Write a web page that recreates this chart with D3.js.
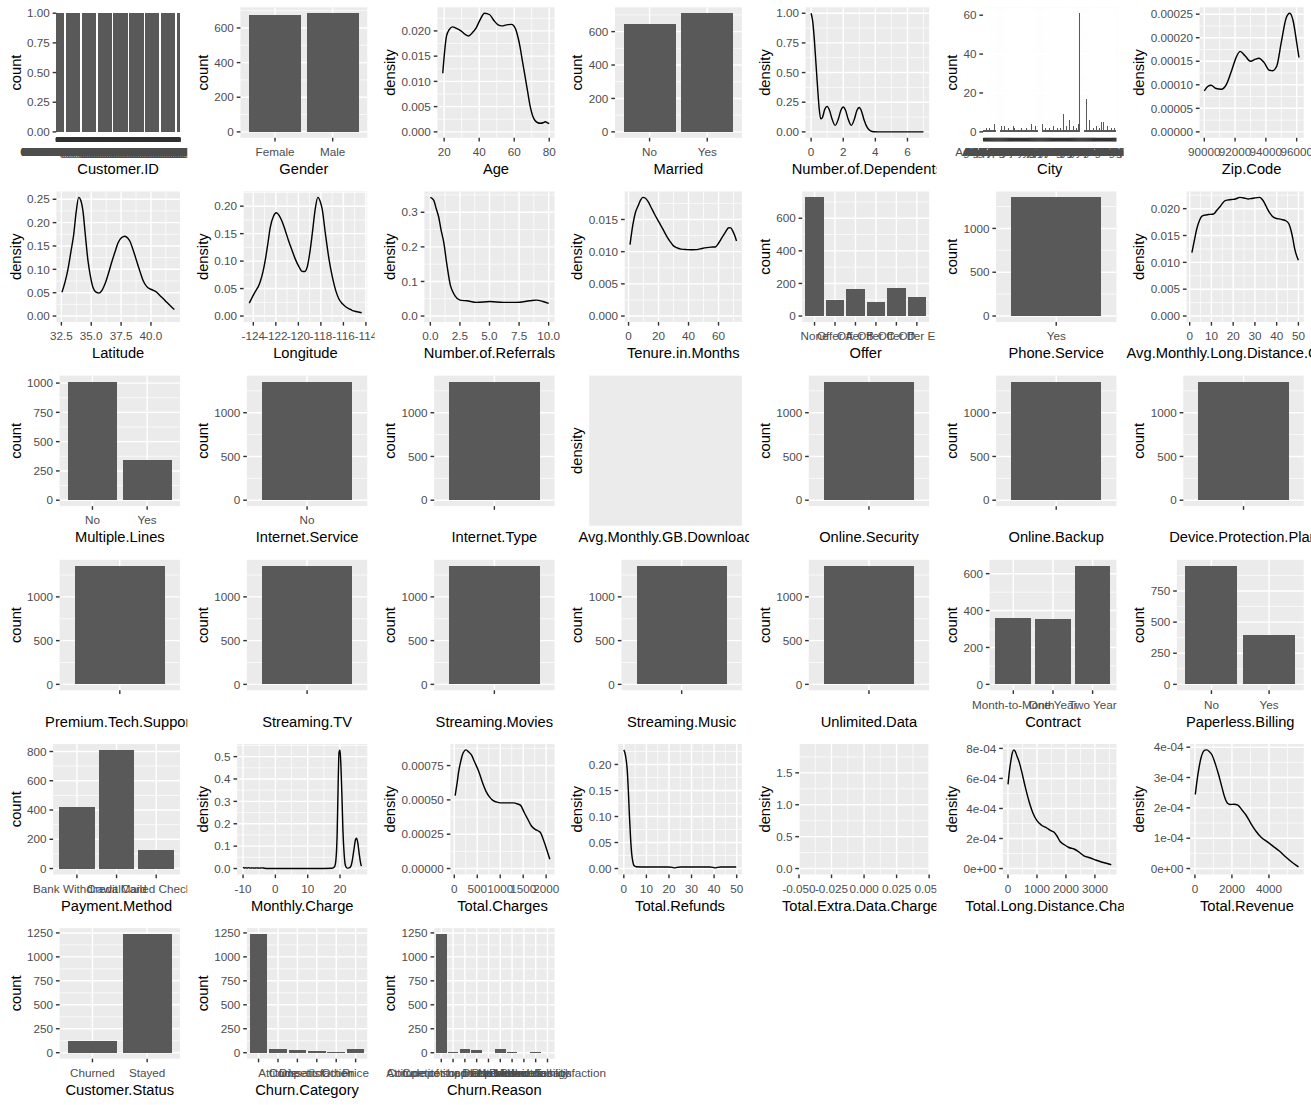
<!DOCTYPE html>
<html>
<head>
<meta charset="utf-8">
<script src="https://cdn.jsdelivr.net/npm/d3@7"></script>
<style>
html,body{margin:0;padding:0;background:#ffffff;}
svg{display:block;}
</style>
</head>
<body>
<svg id="chart" width="1311" height="1105"></svg>
<script>
// ================= DATA =================
// Customer.ID: every ID occurs exactly once
const customerIdCount = 1352;
const customerIdSamples = ["0002-ORFBO","0003-MKNFE","0004-TLHLJ","0011-IGKFF","0013-EXCHZ","0013-MHZWF","0013-SMEOE","0014-BMAQU","0015-UOCOJ","0016-QLJIS","0017-DINOC","0017-IUDMW","0018-NYROU","0019-EFAEP","0019-GFNTW","0020-INWCK","0020-JDNXP","0021-IKXGC","0022-TCJCI","0023-HGHWL"];

const genderCats = ["Female","Male"];
const genderCounts = [673, 685];

const ageDensity = [[19.2,0.0116],[20.3,0.0160],[21.3,0.0189],[23,0.0203],[24.8,0.0208],[27,0.0205],[29.6,0.0200],[32,0.0193],[34,0.0190],[36,0.0196],[38.3,0.0206],[40.5,0.0222],[43.1,0.0235],[46,0.0232],[48.5,0.0220],[50.8,0.0212],[53,0.0210],[55.6,0.0212],[58.5,0.0213],[60,0.0209],[61,0.0202],[62.2,0.0187],[63.3,0.0169],[64.7,0.0140],[66.2,0.0110],[67.7,0.0079],[69.1,0.0051],[70.5,0.0032],[72,0.0022],[73.5,0.0018],[74.9,0.0017],[76.5,0.0018],[77.7,0.0020],[79,0.0018],[80,0.00165]];

const marriedCats = ["No","Yes"];
const marriedCounts = [645, 710];

const dependentsDensity = [[0,1.0],[0.1,0.93],[0.2,0.78],[0.3,0.58],[0.4,0.38],[0.5,0.2],[0.6,0.11],[0.7,0.12],[0.85,0.19],[1.0,0.215],[1.15,0.18],[1.3,0.11],[1.5,0.055],[1.7,0.11],[1.85,0.18],[2.0,0.21],[2.15,0.18],[2.3,0.11],[2.5,0.055],[2.7,0.11],[2.85,0.18],[3.0,0.205],[3.15,0.17],[3.3,0.1],[3.5,0.035],[3.7,0.008],[3.9,0.001],[4.2,0],[5,0],[6,0],[7,0]];

const cityNames = ["Acampo","Acton","Adelanto","Agoura Hills","Aguanga","Alameda","Albany","Alhambra","Aliso Viejo","Alpine","Altadena","Alturas","Anaheim","Anderson","Angels Camp","Antioch","Apple Valley","Arcadia","Arcata","Arroyo Grande","Artesia","Arvin","Atascadero","Atwater","Auburn","Avalon","Azusa","Bakersfield","Baldwin Park","Banning","Barstow","Beaumont","Bell","Bellflower","Belmont","Benicia","Berkeley","Beverly Hills","Bishop","Blythe","Brawley","Brea","Brentwood","Burbank","Burlingame","Calabasas","Calexico","Camarillo","Campbell","Carlsbad","Carson","Chico","Chino","Chula Vista","Claremont","Clovis","Coachella","Colton","Compton","Concord","Corona","Costa Mesa","Covina","Culver City","Cupertino","Daly City","Davis","Delano","Downey","El Cajon","El Centro","Elk Grove","Escondido","Eureka","Fairfield","Folsom","Fontana","Fremont","Fresno","Fullerton","Gardena","Gilroy","Glendale","Hanford","Hayward","Hemet","Indio","Inglewood","Irvine","Lancaster","Livermore","Lodi","Long Beach","Los Angeles","Madera","Merced","Modesto","Napa","Norwalk","Oakland","Oceanside","Ontario","Orange","Oxnard","Palmdale","Pasadena","Pomona","Redding","Redlands","Richmond","Riverside","Roseville","Sacramento","Salinas","San Bernardino","San Diego","San Francisco","San Jose","San Mateo","Santa Ana","Santa Barbara","Santa Clara","Santa Rosa","Stockton","Torrance","Vallejo","Ventura","Visalia","Whittier","Yuba City"];
const cityCounts = [1,1,1,2,1,1,2,1,1,1, 1,4,1,1,2,1,1,3,1,1, 3,1,1,1,2,1,1,1,1,3, 2,1,1,1,1,1,1,2,1,1, 1,1,2,1,1,1,1,4,1,1, 1,3,1,1,3,1,1,4,1,1, 2,1,1,1,2,1,1,1,3,1, 1,1,2,1,1,2,1,1,9,1, 1,3,1,1,6,1,1,1,3,1, 1,2,1,4,61,1,2,1,1,1, 17,1,1,6,1,1,1,2,1,1, 3,1,1,2,1,5,1,5,1,1, 1,3,1,1,1,2,1,1,2,1];

const zipDensity = [[90001,8.7e-5],[90220,9.64e-5],[90440,9.9e-5],[90773,9.2e-5],[91107,9.07e-5],[91440,1.01e-4],[91773,1.30e-4],[92107,1.61e-4],[92330,1.71e-4],[92660,1.61e-4],[93000,1.50e-4],[93330,1.545e-4],[93550,1.565e-4],[93890,1.47e-4],[94220,1.31e-4],[94440,1.30e-4],[94710,1.40e-4],[95000,1.90e-4],[95330,2.43e-4],[95550,2.52e-4],[95770,2.36e-4],[96000,1.90e-4],[96150,1.58e-4]];

const latitudeDensity = [[32.55,0.051],[32.8,0.072],[33.05,0.100],[33.3,0.138],[33.53,0.174],[33.75,0.225],[33.95,0.254],[34.12,0.248],[34.31,0.224],[34.5,0.175],[34.73,0.118],[34.95,0.083],[35.15,0.061],[35.4,0.051],[35.66,0.049],[35.9,0.055],[36.14,0.068],[36.4,0.088],[36.7,0.114],[37.0,0.138],[37.25,0.157],[37.55,0.168],[37.82,0.171],[38.05,0.167],[38.24,0.160],[38.5,0.142],[38.8,0.118],[39.1,0.094],[39.36,0.075],[39.65,0.063],[39.92,0.058],[40.2,0.055],[40.48,0.051],[40.75,0.044],[41.04,0.037],[41.3,0.030],[41.6,0.0225],[41.96,0.014]];

const longitudeDensity = [[-124.36,0.0235],[-123.94,0.0403],[-123.4,0.0615],[-123.15,0.080],[-122.95,0.1005],[-122.7,0.133],[-122.5,0.161],[-122.2,0.182],[-121.97,0.188],[-121.7,0.183],[-121.46,0.173],[-121.15,0.155],[-120.87,0.137],[-120.55,0.119],[-120.27,0.1036],[-119.95,0.090],[-119.67,0.0814],[-119.45,0.081],[-119.22,0.0886],[-119.0,0.113],[-118.77,0.149],[-118.5,0.195],[-118.27,0.216],[-118.05,0.208],[-117.88,0.194],[-117.6,0.150],[-117.28,0.1036],[-116.95,0.068],[-116.68,0.0463],[-116.4,0.031],[-116.08,0.0222],[-115.8,0.017],[-115.49,0.0132],[-115.2,0.010],[-114.89,0.0083],[-114.38,0.006]];

const referralsDensity = [[0,0.343],[0.28,0.335],[0.5,0.31],[0.7,0.287],[0.9,0.25],[1.12,0.2155],[1.4,0.1485],[1.68,0.091],[1.9,0.070],[2.1,0.0575],[2.5,0.046],[3.08,0.044],[3.92,0.0395],[5.04,0.042],[6.16,0.0395],[7.28,0.0395],[8.4,0.044],[8.96,0.046],[9.52,0.042],[10,0.0365]];

const tenureDensity = [[1,0.0111],[2.9,0.0142],[4.5,0.0160],[6.25,0.01705],[8,0.0180],[9.6,0.01843],[11.3,0.0183],[12.96,0.01782],[15,0.0169],[17.46,0.01577],[20,0.0147],[23,0.01345],[25.2,0.0125],[27.5,0.01165],[30,0.0109],[32,0.01063],[35,0.0104],[38.75,0.01032],[42,0.0103],[45.5,0.01032],[49,0.0105],[52.2,0.01063],[55,0.0107],[57.8,0.01073],[60,0.0113],[62.3,0.01217],[64.5,0.0130],[66.8,0.01372],[68.2,0.0137],[69.5,0.0132],[71,0.0124],[72,0.01165]];

const offerCats = ["None","Offer A","Offer B","Offer C","Offer D","Offer E"];
const offerCounts = [728, 98, 163, 88, 169, 116];

const phoneServiceCats = ["Yes"];
const phoneServiceCounts = [1354];

const avgLongDistDensity = [[1.01,0.0118],[2.2,0.0142],[3.36,0.0164],[4.5,0.0178],[5.65,0.0186],[7,0.0188],[8.5,0.0189],[10.96,0.0190],[12.5,0.0197],[14,0.0204],[16.3,0.0215],[19.3,0.0217],[21,0.0218],[23.1,0.0221],[25,0.0220],[26.9,0.0218],[28.5,0.0219],[29.9,0.0220],[32.2,0.0221],[33.4,0.0217],[34.5,0.0210],[35.7,0.0200],[36.8,0.0192],[38,0.0186],[39.1,0.0183],[42.1,0.0180],[44.4,0.0177],[45.6,0.0172],[46.7,0.0158],[47.5,0.0143],[48.2,0.0127],[49.99,0.0104]];

const multipleLinesCats = ["No","Yes"];
const multipleLinesCounts = [1013, 343];

const internetServiceCats = ["No"];
const internetServiceCounts = [1356];

// Internet.Type, Online.Security, Online.Backup, Device.Protection.Plan, Premium.Tech.Support,
// Streaming.TV, Streaming.Movies, Streaming.Music, Unlimited.Data: one blank level
const blankLevelCats = [""];
const blankLevelCounts = [1356];

const contractCats = ["Month-to-Month","One Year","Two Year"];
const contractCounts = [360, 353, 643];

const paperlessCats = ["No","Yes"];
const paperlessCounts = [953, 400];

const paymentCats = ["Bank Withdrawal","Credit Card","Mailed Check"];
const paymentCounts = [422, 811, 127];

const monthlyChargeDensity = [[-10,0.006],[-9.6,0.002],[-9.2,0.004],[-8.8,0.002],[-8.3,0.004],[-7.8,0.002],[-7.2,0.003],[-6.5,0.002],[-5.8,0.003],[-5,0.002],[-4.2,0.003],[-3.4,0.0015],[-2,0.0005],[0,0.0003],[5,0.0002],[10,0.0002],[15,0.0003],[17.5,0.001],[18.3,0.008],[18.7,0.035],[19.1,0.15],[19.4,0.36],[19.7,0.52],[20.0,0.53],[20.3,0.45],[20.6,0.32],[20.9,0.17],[21.3,0.06],[21.7,0.012],[22.2,0.002],[22.8,0.003],[23.4,0.012],[23.9,0.045],[24.4,0.095],[24.8,0.13],[25.1,0.136],[25.5,0.115],[25.9,0.07],[26.3,0.03],[26.6,0.011]];

const totalChargesDensity = [[19,0.000531],[60,0.00062],[96,0.000707],[140,0.00078],[176,0.000827],[256,0.000864],[310,0.00085],[373,0.000827],[450,0.00077],[533,0.000707],[610,0.00063],[691,0.000562],[770,0.00052],[849,0.000494],[950,0.000482],[1049,0.000478],[1180,0.000478],[1287,0.000478],[1380,0.00047],[1444,0.00046],[1520,0.00041],[1604,0.000357],[1680,0.00031],[1762,0.000285],[1820,0.000275],[1880,0.00026],[1940,0.00021],[2000,0.000152],[2040,0.00011],[2080,0.0000673]];

const totalRefundsDensity = [[0,0.228],[0.5,0.222],[1,0.21],[1.5,0.19],[2,0.15],[2.5,0.1],[3,0.058],[3.5,0.028],[4,0.013],[4.5,0.006],[5.5,0.0035],[10,0.003],[20,0.003],[21.5,0.0022],[22.5,0.0012],[23.5,0.0022],[25,0.003],[38,0.003],[39.5,0.0022],[40.5,0.0012],[41.5,0.0022],[43,0.003],[49.8,0.003]];

// Total.Extra.Data.Charges: constant values, no density curve drawn
const extraDataLimitsX = [-0.05, 0.05];
const extraDataRangeY = [0, 1.86];

const longDistChargesDensity = [[1,0.00056],[50,0.00065],[102,0.00072],[150,0.00077],[200,0.00079],[250,0.00078],[308,0.00075],[400,0.0007],[480,0.00064],[600,0.00054],[737,0.00044],[860,0.00037],[994,0.00032],[1150,0.00029],[1337,0.00027],[1500,0.00025],[1600,0.00024],[1679,0.00022],[1800,0.00018],[1936,0.00016],[2100,0.00014],[2279,0.00013],[2450,0.00011],[2622,0.000085],[2850,0.00007],[3050,0.000055],[3250,0.000042],[3479,0.00003],[3564,0.000024]];

const totalRevenueDensity = [[21,0.000244],[114,0.00029],[218,0.000331],[331,0.000365],[442,0.000384],[543,0.00039],[637,0.000391],[773,0.000386],[918,0.000375],[1102,0.000345],[1283,0.000309],[1450,0.00027],[1619,0.000233],[1761,0.000215],[1899,0.000211],[2118,0.000212],[2320,0.000209],[2542,0.000193],[2741,0.000178],[3012,0.00015],[3301,0.000123],[3577,0.000103],[3862,0.0000905],[4217,0.000074],[4563,0.0000577],[4894,0.000039],[5264,0.0000197],[5459,0.000011],[5600,0.0000052]];

const statusCats = ["Churned","Stayed"];
const statusCounts = [117, 1238];

const churnCategoryCats = ["","Attitude","Competitor","Dissatisfaction","Other","Price"];
const churnCategoryCounts = [1238, 42, 23, 13, 3, 36];

const churnReasonCats = ["","Attitude of support person","Competitor had better devices","Competitor made better offer","Deceased","Don't know","Moved","Network reliability","Price too high","Product dissatisfaction"];
const churnReasonCounts = [1238, 3, 35, 25, 2, 35, 4, 2, 10, 2];

// ---------- tick values ----------
const ticksUnit = [0,0.25,0.5,0.75,1];
const ticks600 = [0,200,400,600];
const ticks800 = [0,200,400,600,800];
const ticks1000 = [0,500,1000];
const ticks1000q = [0,250,500,750,1000];
const ticks750 = [0,250,500,750];
const ticks1250 = [0,250,500,750,1000,1250];
const ticksCity = [0,20,40,60];
const ticksAgeY = [0,0.005,0.01,0.015,0.02];
const ticksAgeX = [20,40,60,80];
const ticksDepX = [0,2,4,6];
const ticksZipY = [0,0.00005,0.0001,0.00015,0.0002,0.00025];
const ticksZipX = [90000,92000,94000,96000];
const ticksLatY = [0,0.05,0.1,0.15,0.2,0.25];
const ticksLatX = [32.5,35,37.5,40];
const ticksLonY = [0,0.05,0.1,0.15,0.2];
const ticksLonX = [-124,-122,-120,-118,-116,-114];
const ticksRefY = [0,0.1,0.2,0.3];
const ticksRefX = [0,2.5,5,7.5,10];
const ticksTenY = [0,0.005,0.01,0.015];
const ticksTenX = [0,20,40,60];
const ticksLdX = [0,10,20,30,40,50];
const ticksMonY = [0,0.1,0.2,0.3,0.4,0.5];
const ticksMonX = [-10,0,10,20];
const ticksTcY = [0,0.00025,0.0005,0.00075];
const ticksTcX = [0,500,1000,1500,2000];
const ticksRfY = [0,0.05,0.1,0.15,0.2];
const ticksRfX = [0,10,20,30,40,50];
const ticksExY = [0,0.5,1,1.5];
const ticksExX = [-0.05,-0.025,0,0.025,0.05];
const ticksTldY = [0,0.0002,0.0004,0.0006,0.0008];
const ticksTldX = [0,1000,2000,3000];
const ticksRevY = [0,0.0001,0.0002,0.0003,0.0004];
const ticksRevX = [0,2000,4000];

// ================= PANEL TABLE =================
const customerIds = d3.range(customerIdCount);
const bar = (title, cats, counts, yTicks, yFmt, extra) => Object.assign({type:"bar", title, yTitle:"count", cats, counts, yTicks, yFmt}, extra||{});
const dens = (title, pts, xTicks, xFmt, yTicks, yFmt) => ({type:"density", title, yTitle:"density", pts, xTicks, xFmt, yTicks, yFmt});

const panels = [
  bar("Customer.ID", customerIds, customerIds.map(() => 1), ticksUnit, 2,
      {labels: customerIds.map(i => customerIdSamples[i % customerIdSamples.length])}),
  bar("Gender", genderCats, genderCounts, ticks600, 0),
  dens("Age", ageDensity, ticksAgeX, 0, ticksAgeY, 3),
  bar("Married", marriedCats, marriedCounts, ticks600, 0),
  dens("Number.of.Dependents", dependentsDensity, ticksDepX, 0, ticksUnit, 2),
  bar("City", cityNames, cityCounts, ticksCity, 0),
  dens("Zip.Code", zipDensity, ticksZipX, 0, ticksZipY, 5),

  dens("Latitude", latitudeDensity, ticksLatX, 1, ticksLatY, 2),
  dens("Longitude", longitudeDensity, ticksLonX, 0, ticksLonY, 2),
  dens("Number.of.Referrals", referralsDensity, ticksRefX, 1, ticksRefY, 1),
  dens("Tenure.in.Months", tenureDensity, ticksTenX, 0, ticksTenY, 3),
  bar("Offer", offerCats, offerCounts, ticks600, 0),
  bar("Phone.Service", phoneServiceCats, phoneServiceCounts, ticks1000, 0),
  dens("Avg.Monthly.Long.Distance.Charges", avgLongDistDensity, ticksLdX, 0, ticksAgeY, 3),

  bar("Multiple.Lines", multipleLinesCats, multipleLinesCounts, ticks1000q, 0),
  bar("Internet.Service", internetServiceCats, internetServiceCounts, ticks1000, 0),
  bar("Internet.Type", blankLevelCats, blankLevelCounts, ticks1000, 0),
  {type:"empty", title:"Avg.Monthly.GB.Download", yTitle:"density"},
  bar("Online.Security", blankLevelCats, blankLevelCounts, ticks1000, 0),
  bar("Online.Backup", blankLevelCats, blankLevelCounts, ticks1000, 0),
  bar("Device.Protection.Plan", blankLevelCats, blankLevelCounts, ticks1000, 0),

  bar("Premium.Tech.Support", blankLevelCats, blankLevelCounts, ticks1000, 0),
  bar("Streaming.TV", blankLevelCats, blankLevelCounts, ticks1000, 0),
  bar("Streaming.Movies", blankLevelCats, blankLevelCounts, ticks1000, 0),
  bar("Streaming.Music", blankLevelCats, blankLevelCounts, ticks1000, 0),
  bar("Unlimited.Data", blankLevelCats, blankLevelCounts, ticks1000, 0),
  bar("Contract", contractCats, contractCounts, ticks600, 0),
  bar("Paperless.Billing", paperlessCats, paperlessCounts, ticks750, 0),

  bar("Payment.Method", paymentCats, paymentCounts, ticks800, 0),
  dens("Monthly.Charge", monthlyChargeDensity, ticksMonX, 0, ticksMonY, 1),
  dens("Total.Charges", totalChargesDensity, ticksTcX, 0, ticksTcY, 5),
  dens("Total.Refunds", totalRefundsDensity, ticksRfX, 0, ticksRfY, 2),
  {type:"blank", title:"Total.Extra.Data.Charges", yTitle:"density", xLimits: extraDataLimitsX, yRange: extraDataRangeY, xTicks: ticksExX, xFmt:3, yTicks: ticksExY, yFmt:1},
  dens("Total.Long.Distance.Charges", longDistChargesDensity, ticksTldX, 0, ticksTldY, "sci"),
  dens("Total.Revenue", totalRevenueDensity, ticksRevX, 0, ticksRevY, "sci"),

  bar("Customer.Status", statusCats, statusCounts, ticks1250, 0),
  bar("Churn.Category", churnCategoryCats, churnCategoryCounts, ticks1250, 0),
  bar("Churn.Reason", churnReasonCats, churnReasonCounts, ticks1250, 0)
];

// ================= RENDER =================
const W = 1311, H = 1105, NC = 7, NR = 6;
const cellW = W / NC, cellH = H / NR;
const FONT = "'Liberation Sans', Arial, Helvetica, sans-serif";
const TICK_FS = 11.7, TITLE_FS = 14.7;
const PANEL_BG = "#EBEBEB", BAR_FILL = "#595959", TICK_COL = "#333333", TICK_TXT = "#4D4D4D";
const LW = 1.42, LW_MINOR = 0.71, TICK_LEN = 3.67;

const svg = d3.select("#chart").attr("font-family", FONT);
svg.append("rect").attr("width", W).attr("height", H).attr("fill", "#ffffff");

const measurer = svg.append("text").attr("font-size", TICK_FS).attr("visibility", "hidden");
function textW(s) { measurer.text(s); return measurer.node().getComputedTextLength(); }

function fmtSci(v) {
  if (v === 0) return "0e+00";
  const e = Math.floor(Math.log10(Math.abs(v)) + 1e-9);
  const m = Math.round(v / Math.pow(10, e));
  return m + "e" + (e < 0 ? "-" : "+") + String(Math.abs(e)).padStart(2, "0");
}
function fmt(v, mode) { return mode === "sci" ? fmtSci(v) : v.toFixed(mode); }

function minorBreaks(major, lo, hi) {
  if (major.length < 2) return [];
  const step = major[1] - major[0];
  let b = major.slice();
  if (lo < b[0]) b.unshift(b[0] - step);
  if (hi > b[b.length - 1]) b.push(b[b.length - 1] + step);
  const out = [];
  for (let i = 0; i < b.length - 1; i++) {
    const m = (b[i] + b[i + 1]) / 2;
    if (m >= lo && m <= hi) out.push(m);
  }
  return out;
}

panels.forEach((p, i) => {
  const col = i % NC, row = Math.floor(i / NC);
  const cx = col * cellW, cy = row * cellH;
  // each plot paints its own white background (covers overflow of earlier plots)
  const g = svg.append("g");
  g.append("rect").attr("x", cx).attr("y", cy).attr("width", cellW).attr("height", cellH).attr("fill", "#ffffff");

  const hasAxes = p.type !== "empty";
  const right = cx + cellW - 7.3;
  const top = cy + 7.3;
  let left, bottom;

  let y, yMajor = [], yLabels = [], yMinor = [];
  if (hasAxes) {
    let yMin = 0, yMax;
    if (p.type === "bar") yMax = d3.max(p.counts);
    else if (p.type === "density") yMax = d3.max(p.pts, d => d[1]);
    else { yMin = p.yRange[0]; yMax = p.yRange[1]; }
    const yr = yMax - yMin;
    const ylo = yMin - 0.05 * yr, yhi = yMax + 0.05 * yr;
    yMajor = p.yTicks.filter(v => v >= ylo - 1e-12 && v <= yhi + 1e-12);
    yLabels = yMajor.map(v => fmt(v, p.yFmt));
    yMinor = minorBreaks(yMajor, ylo, yhi);
    const ylw = d3.max(yLabels, textW);
    left = cx + 33.6 + ylw;
    bottom = cy + 137.8;
    y = d3.scaleLinear().domain([ylo, yhi]).range([bottom, top]);
  } else {
    left = cx + 27.3;
    bottom = cy + 157.4;
  }

  // panel background
  g.append("rect").attr("x", left).attr("y", top).attr("width", right - left).attr("height", bottom - top)
    .attr("fill", PANEL_BG);

  if (hasAxes) {
    let x, xMajor, xLabels, xMinor = [];
    if (p.type === "bar") {
      const n = p.cats.length;
      x = d3.scaleLinear().domain([0.4, n + 0.6]).range([left, right]);
      xMajor = d3.range(1, n + 1);
      xLabels = p.labels || p.cats;
    } else {
      let lo, hi;
      if (p.type === "density") {
        const ext = d3.extent(p.pts, d => d[0]);
        const r = ext[1] - ext[0];
        lo = ext[0] - 0.05 * r; hi = ext[1] + 0.05 * r;
      } else { lo = p.xLimits[0]; hi = p.xLimits[1]; }
      x = d3.scaleLinear().domain([lo, hi]).range([left, right]);
      xMajor = p.xTicks.filter(v => v >= lo - 1e-9 && v <= hi + 1e-9);
      xLabels = xMajor.map(v => fmt(v, p.xFmt));
      xMinor = minorBreaks(xMajor, lo, hi);
    }

    const grid = g.append("g").attr("stroke", "#ffffff").attr("fill", "none");
    grid.selectAll("line.ymin").data(yMinor).join("line").attr("class", "ymin")
      .attr("x1", left).attr("x2", right).attr("y1", d => y(d)).attr("y2", d => y(d)).attr("stroke-width", LW_MINOR);
    grid.selectAll("line.xmin").data(xMinor).join("line").attr("class", "xmin")
      .attr("y1", top).attr("y2", bottom).attr("x1", d => x(d)).attr("x2", d => x(d)).attr("stroke-width", LW_MINOR);
    grid.selectAll("line.ymaj").data(yMajor).join("line").attr("class", "ymaj")
      .attr("x1", left).attr("x2", right).attr("y1", d => y(d)).attr("y2", d => y(d)).attr("stroke-width", LW);
    grid.selectAll("line.xmaj").data(xMajor).join("line").attr("class", "xmaj")
      .attr("y1", top).attr("y2", bottom).attr("x1", d => x(d)).attr("x2", d => x(d)).attr("stroke-width", LW);

    if (p.type === "bar") {
      g.append("g").attr("fill", BAR_FILL).attr("shape-rendering", "crispEdges")
        .selectAll("rect").data(p.counts).join("rect")
        .attr("x", (d, k) => x(k + 1 - 0.45))
        .attr("width", (d, k) => x(k + 1 + 0.45) - x(k + 1 - 0.45))
        .attr("y", d => y(d))
        .attr("height", d => y(0) - y(d));
    } else if (p.type === "density") {
      const line = d3.line().x(d => x(d[0])).y(d => y(d[1])).curve(d3.curveMonotoneX);
      g.append("path").datum(p.pts).attr("d", line).attr("fill", "none")
        .attr("stroke", "#000000").attr("stroke-width", LW).attr("stroke-linejoin", "round");
    }

    const ya = g.append("g");
    ya.selectAll("line").data(yMajor).join("line")
      .attr("x1", left - TICK_LEN).attr("x2", left).attr("y1", d => y(d)).attr("y2", d => y(d))
      .attr("stroke", TICK_COL).attr("stroke-width", LW);
    ya.selectAll("text").data(yMajor).join("text")
      .attr("x", left - 6.6).attr("y", d => y(d) + 4.2)
      .attr("text-anchor", "end").attr("font-size", TICK_FS).attr("fill", TICK_TXT)
      .text((d, k) => yLabels[k]);

    const xa = g.append("g");
    xa.selectAll("line").data(xMajor).join("line")
      .attr("x1", d => x(d)).attr("x2", d => x(d)).attr("y1", bottom).attr("y2", bottom + TICK_LEN)
      .attr("stroke", TICK_COL).attr("stroke-width", LW);
    xa.selectAll("text").data(xMajor).join("text")
      .attr("x", d => x(d)).attr("y", cy + 156)
      .attr("text-anchor", "middle").attr("font-size", TICK_FS).attr("fill", TICK_TXT)
      .text((d, k) => xLabels[k]);
  }

  g.append("text").attr("x", (left + right) / 2).attr("y", cy + 174)
    .attr("text-anchor", "middle").attr("font-size", TITLE_FS).attr("fill", "#000000").text(p.title);
  const ty = (top + bottom) / 2, tx = cx + 20.5;
  g.append("text").attr("transform", `translate(${tx},${ty}) rotate(-90)`)
    .attr("text-anchor", "middle").attr("font-size", TITLE_FS).attr("fill", "#000000").text(p.yTitle);
});
measurer.remove();
</script>
</body>
</html>
